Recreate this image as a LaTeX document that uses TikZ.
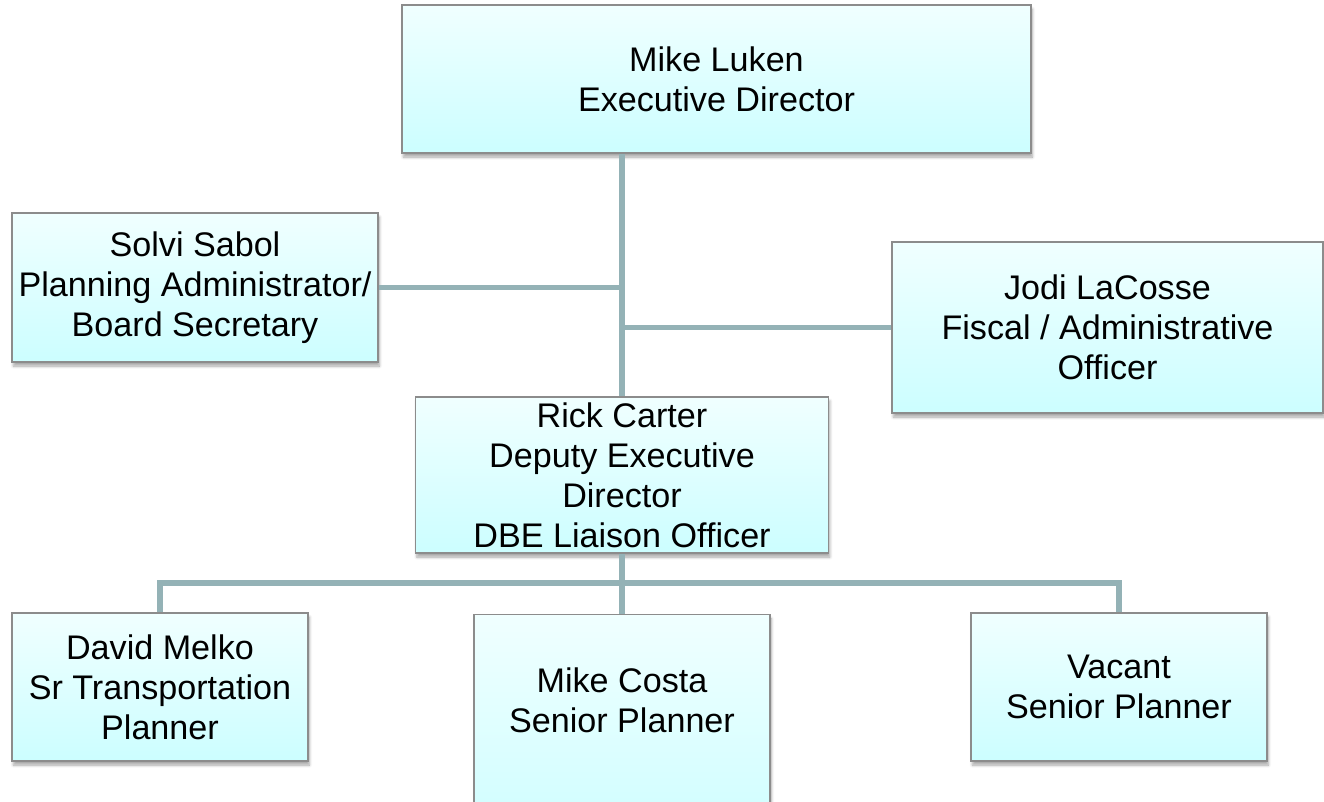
\documentclass[tikz,border=0pt]{standalone}
\usepackage{fontspec}
\setmainfont{Liberation Sans}
\usepackage{xcolor}
\usetikzlibrary{shadows.blur}

\definecolor{boxtop}{HTML}{F0FFFF}
\definecolor{boxbottom}{HTML}{CCFEFF}
\definecolor{boxline}{HTML}{8C8C8C}
\definecolor{linkline}{HTML}{94B2B6}

\tikzset{
	orgbox/.style={draw=boxline,line width=0.9pt,top color=boxtop,bottom color=boxbottom,
		align=center,inner sep=1pt,font=\fontsize{25.6}{30}\selectfont,
		blur shadow={shadow xshift=1pt,shadow yshift=-3pt,shadow blur steps=6,shadow opacity=35}},
	orglink/.style={draw=linkline,line width=4.2pt}
}

\begin{document}
\begin{tikzpicture}[x=0.75pt,y=-0.75pt]
			\useasboundingbox (0,0) rectangle (1324,801);
			\node[orgbox,minimum width=471.75pt,minimum height=111pt] (luken) at (716.5,79)
			{Mike Luken\\Executive Director};
			\node[orgbox,minimum width=274.5pt,minimum height=111.75pt] (solvi) at (195,287.5)
			{Solvi Sabol\\Planning Administrator/\\Board Secretary};
			\node[orgbox,minimum width=323.25pt,minimum height=128.25pt] (jodi) at (1107.5,327.5)
			{Jodi LaCosse\\Fiscal / Administrative\\Officer};
			\node[orgbox,minimum width=309.75pt,minimum height=117pt] (rick) at (622,475)
			{Rick Carter\\Deputy Executive\\Director\\DBE Liaison Officer};
			\node[orgbox,minimum width=222pt,minimum height=111pt] (david) at (160,687)
			{David Melko\\Sr Transportation\\Planner};
			\node[orgbox,minimum width=222pt,minimum height=180pt,anchor=north] (costa) at (622,614) {};
			\node[align=center,font=\fontsize{25.6}{30}\selectfont] (costalbl) at (622,700)
			{Mike Costa\\Senior Planner};
			\node[orgbox,minimum width=222pt,minimum height=111pt] (vacant) at (1119,687)
			{Vacant\\Senior Planner};

			\coordinate (bus) at (622,583);
			\draw[orglink] (rick.north |- luken.south) -- (rick.north);
			\draw[orglink] (solvi.east) -- (solvi.east -| rick.north);
			\draw[orglink] (jodi.west) -- (jodi.west -| rick.north);
			\draw[orglink] (rick.south) -- (bus) -- (costa.north);
			\draw[orglink] (david.north) |- (bus) -| (vacant.north);
		\end{tikzpicture}
\end{document}
